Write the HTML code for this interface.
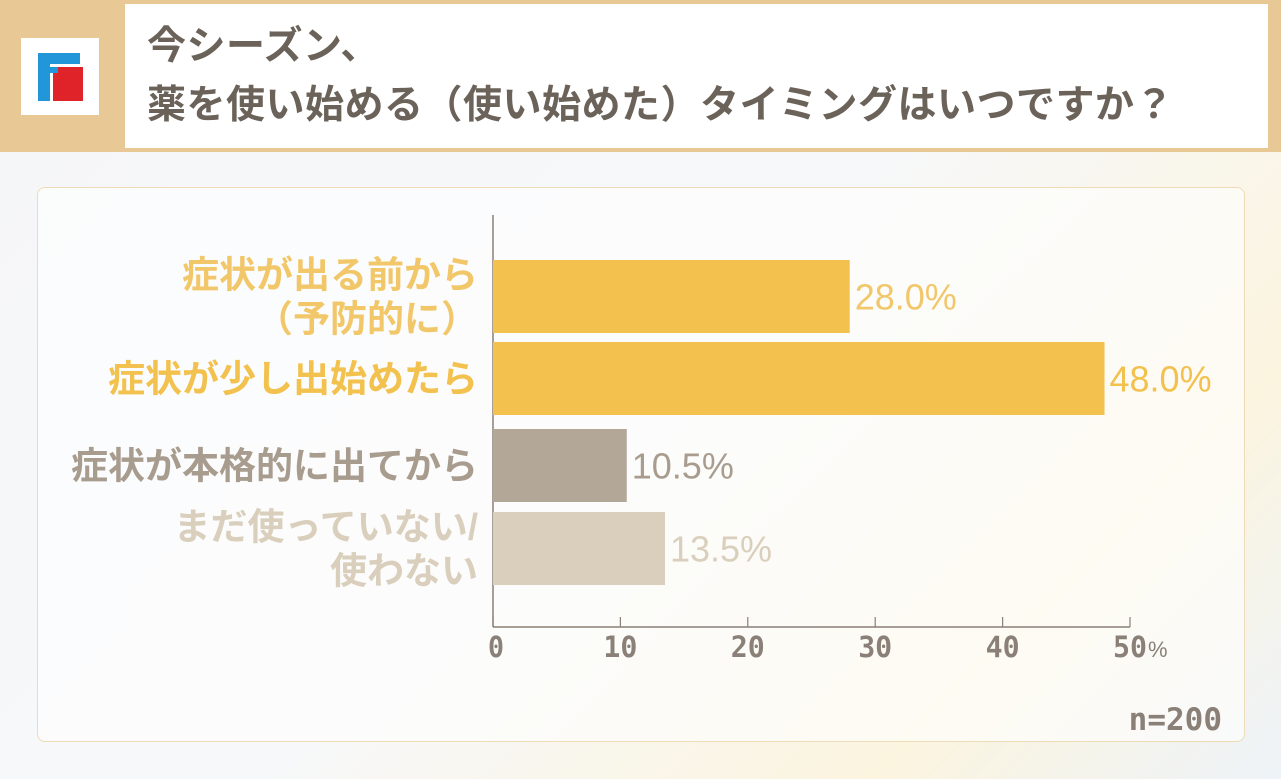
<!DOCTYPE html>
<html><head><meta charset="utf-8"><style>
body{margin:0;width:1281px;height:779px;overflow:hidden;background:linear-gradient(135deg,#f5f6f8 0%,#f7f8fa 50%,#fbf4df 80%,#eef3f8 100%);font-family:"Liberation Sans","Noto Sans CJK JP",sans-serif;position:relative}
#hdr{position:absolute;left:0;top:0;width:1281px;height:152px;background:#e8c894}
#tbox{position:absolute;left:125px;top:4px;width:1143px;height:144px;background:#fff}
#title{position:absolute;left:147px;top:17px;font-size:39px;font-weight:bold;color:#6b625a;line-height:59px;letter-spacing:0.5px}
#logo{position:absolute;left:21px;top:38px;width:78px;height:77px;background:#fff}
#panel{position:absolute;left:37px;top:187px;width:1206px;height:553px;border:1.5px solid #eedcb8;border-radius:8px;background:rgba(255,255,255,0.6)}
</style></head><body>
<div id="hdr"></div>
<div id="tbox"></div>
<div id="title">今シーズン、<br>薬を使い始める（使い始めた）タイミングはいつですか？</div>
<div id="logo">
<svg width="78" height="77"><rect x="17" y="15" width="42" height="11" fill="#2196d8"/><rect x="17" y="15" width="12" height="48" fill="#2196d8"/><rect x="29" y="29" width="8" height="6" fill="#2196d8"/><rect x="37" y="29" width="25" height="34" fill="#e02328"/><rect x="32" y="35" width="5" height="28" fill="#e02328"/></svg>
</div>
<div id="panel"></div>
<svg id="chart" width="1281" height="779" style="position:absolute;left:0;top:0"></svg>
<script>
const categories=[["症状が出る前から","（予防的に）"],["症状が少し出始めたら"],["症状が本格的に出てから"],["まだ使っていない/","使わない"]];
const values=[28.0,48.0,10.5,13.5];
const valueLabels=["28.0%","48.0%","10.5%","13.5%"];
const ticks=[0,10,20,30,40,50];
const tickLabels=["0","10","20","30","40","50"];
const barColors=["#f2c14e","#f2c14e","#b3a798","#d9cfbc"];
const textColors=["#f2c76a","#f2c14e","#a89c8e","#d9cfbc"];
const svg=document.getElementById('chart');const NS='http://www.w3.org/2000/svg';
const x0=493,x1=1130,axisY=627;
const xs=v=>x0+(v/50)*(x1-x0);
const barTops=[260,342,429,512],barH=73;
function mk(t,a,p){const e=document.createElementNS(NS,t);for(const k in a)e.setAttribute(k,a[k]);(p||svg).appendChild(e);return e;}
const ax=mk('line',{x1:x0,y1:215,x2:x0,y2:axisY,stroke:'#8a8078','stroke-width':1.5});


const bx=mk('line',{x1:x0,y1:axisY,x2:x1,y2:axisY,stroke:'#8a8078','stroke-width':1.5});


ticks.forEach((t,i)=>{
 const tk=mk('line',{x1:xs(t),y1:axisY-10,x2:xs(t),y2:axisY,stroke:'#8a8078','stroke-width':1.2});
 
 
 const tx=mk('text',{x:xs(t)+(i===0?3:0),y:axisY+30,'text-anchor':'middle','font-size':29,'font-weight':'bold','font-family':'"DejaVu Sans Mono","Liberation Mono",monospace',fill:'#8a8078',transform:'',textLength:(i===0?16:34)*1});
 tx.setAttribute('lengthAdjust','spacingAndGlyphs');
 tx.textContent=tickLabels[i];
 
 
});
const pc=mk('text',{x:xs(50)+18,y:axisY+30,'font-size':22,'font-family':'"Liberation Sans",sans-serif',fill:'#8a8078'});pc.textContent='%';


values.forEach((v,i)=>{
 const y=barTops[i];
 const r=mk('rect',{x:x0,y:y,width:xs(v)-x0,height:barH,fill:barColors[i]});
 
 
 const vl=mk('text',{x:xs(v)+5,y:y+barH/2+13,'font-size':36,fill:textColors[i]});vl.textContent=valueLabels[i];
 
 
 const lines=categories[i];
 lines.forEach((s,j)=>{
  const cy=y+barH/2+13+(j-(lines.length-1)/2)*44;
  const t=mk('text',{x:478,y:cy,'text-anchor':'end','font-size':37,'font-weight':'bold',fill:textColors[i]});t.textContent=s;
  
  
 });
});
const n=mk('text',{x:1222,y:730,'text-anchor':'end','font-size':31,'font-weight':'bold','font-family':'"DejaVu Sans Mono","Liberation Mono",monospace',fill:'#8a8078'});n.textContent='n=200';


</script>
</body></html>
